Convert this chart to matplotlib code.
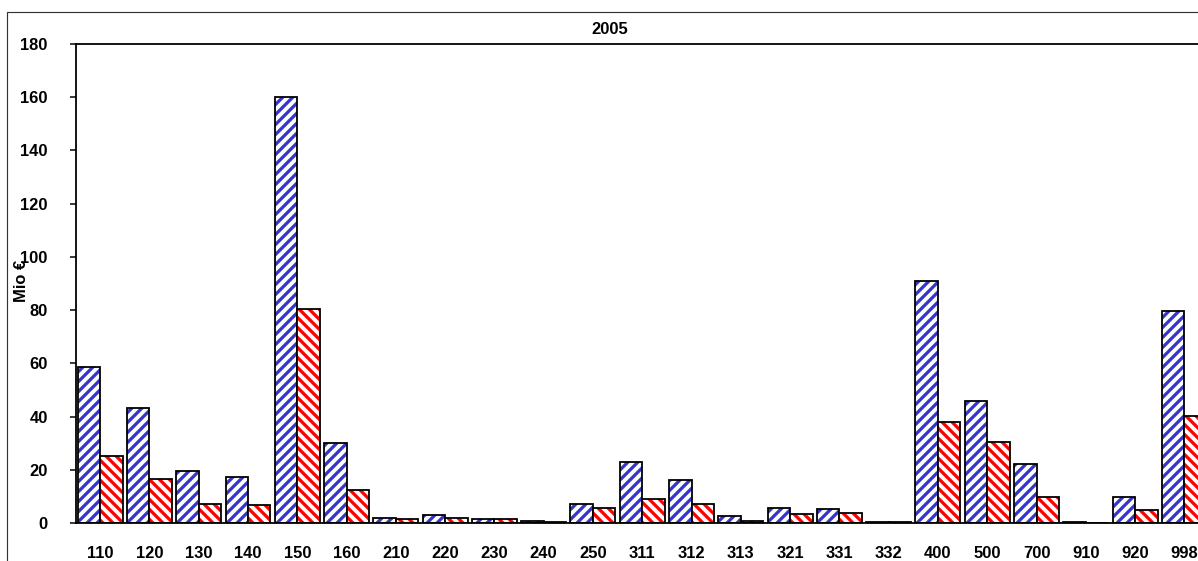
import numpy as np
import matplotlib
matplotlib.use("Agg")
import matplotlib.pyplot as plt
from matplotlib.patches import Rectangle

# Categories and the two series (Mio €)
categories = ["110", "120", "130", "140", "150", "160", "210", "220", "230", "240",
              "250", "311", "312", "313", "321", "331", "332", "400", "500", "700",
              "910", "920", "998"]
series_blue = [58.6, 43.1, 19.4, 17.2, 160.1, 30.1, 1.9, 3.0, 1.4, 0.9,
               7.3, 22.8, 16.0, 2.5, 5.5, 5.1, 0.4, 90.9, 46.0, 22.0,
               0.4, 9.9, 79.7]
series_red = [25.3, 16.6, 7.3, 6.9, 80.4, 12.5, 1.4, 1.7, 1.4, 0.4,
              5.5, 9.0, 7.0, 0.9, 3.4, 3.9, 0.4, 37.8, 30.4, 9.9,
              0.0, 4.8, 40.2]
yticks = [0, 20, 40, 60, 80, 100, 120, 140, 160, 180]

DPI = 120
W, H = 1198, 561
FS = 9.9
plt.rcParams["font.family"] = ["Liberation Sans", "DejaVu Sans"]
plt.rcParams["hatch.linewidth"] = 1.95

fig = plt.figure(figsize=(W / DPI, H / DPI), dpi=DPI)

# outer chart border
fig.patches.append(Rectangle((7 / W, -0.1), 1.2, 1 - 12 / H + 0.1,
                             transform=fig.transFigure, fill=False,
                             edgecolor="#333333", linewidth=0.7))

left, right = 75.5 / W, 1209 / W
bottom, top = (H - 523) / H, (H - 44) / H
ax = fig.add_axes([left, bottom, right - left, top - bottom])

x = np.arange(len(categories))
bw = 0.456
blue_bars = ax.bar(x - bw / 2, series_blue, width=bw, facecolor="white",
                   edgecolor="black", hatch="////", linewidth=1.08)
for p in blue_bars:
    p._hatch_color = matplotlib.colors.to_rgba("#3636cc")
red_bars = ax.bar(x + bw / 2, series_red, width=bw, facecolor="white",
                  edgecolor="black", hatch="\\\\\\\\", linewidth=1.08)
for p in red_bars:
    p._hatch_color = matplotlib.colors.to_rgba("#ff0000")

ax.set_xlim(-0.5, len(categories) - 0.5)
ax.set_ylim(0, 180)
ax.set_yticks(yticks)
ax.set_xticks(x)
ax.set_xticklabels(categories)

for s in ["left", "bottom", "top"]:
    ax.spines[s].set_linewidth(1.08)
    ax.spines[s].set_color("black")
ax.spines["right"].set_visible(False)

ax.tick_params(axis="y", direction="out", length=3.6, width=0.9, pad=13,
               labelsize=FS)
ax.tick_params(axis="x", length=0, pad=13.5, labelsize=FS)
for lab in ax.get_xticklabels() + ax.get_yticklabels():
    lab.set_fontweight("bold")

fig.text(610 / W, 1 - 30 / H, "2005", ha="center", va="center",
         fontsize=FS, fontweight="bold")
fig.text(21 / W, 1 - 281 / H, "Mio €", ha="center", va="center",
         rotation=90, fontsize=FS, fontweight="bold")

fig.savefig("out.png", dpi=DPI)
